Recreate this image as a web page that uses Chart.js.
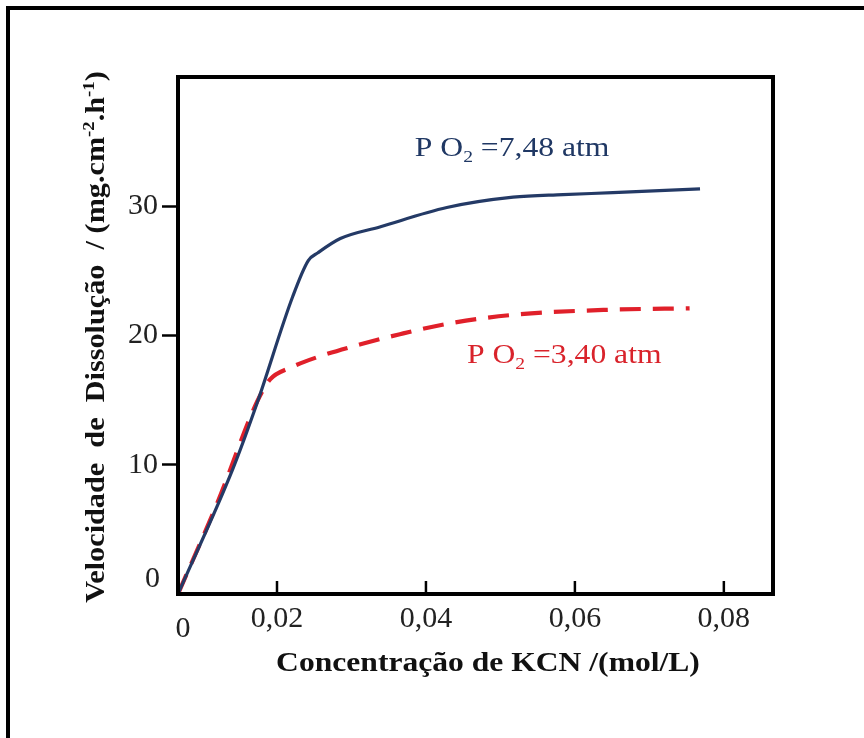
<!DOCTYPE html>
<html>
<head>
<meta charset="utf-8">
<script src="https://cdn.jsdelivr.net/npm/chart.js@4.4.1/dist/chart.umd.min.js"></script>
<style>
  html, body { margin: 0; padding: 0; background: #fff; }
  #wrap { width: 864px; height: 738px; position: relative; }
</style>
</head>
<body>
<div id="wrap"><canvas id="dissolucaoChart"></canvas></div>
<script>
// Dados (x em mol/L, y em mg.cm-2.h-1)
const concAlta = [0, 0.0111, 0.016, 0.0221, 0.0242, 0.0255, 0.0285, 0.0338, 0.0428, 0.0517, 0.0584, 0.0651, 0.0768];
const velAlta  = [0, 9.7, 14.8, 23.0, 25.8, 26.4, 27.5, 28.4, 29.9, 30.7, 30.9, 31.05, 31.35];

const concBaixa = [0, 0.008, 0.016, 0.0186, 0.02175, 0.0258, 0.0311, 0.0365, 0.0428, 0.0517, 0.0651, 0.0754];
const velBaixa  = [0, 7.1, 14.9, 16.6, 17.5, 18.4, 19.3, 20.1, 20.9, 21.6, 22.0, 22.1];

const xTickValues = [0, 0.02, 0.04, 0.06, 0.08];
const xTickLabels = ['0', '0,02', '0,04', '0,06', '0,08'];
const yTickValues = [0, 10, 20, 30];
const yTickLabels = ['0', '10', '20', '30'];

const rotuloAlta  = { pre: 'P O', sub: '2', post: ' =7,48 atm', x: 0.0385, y: 33.9, cor: '#203864' };
const rotuloBaixa = { pre: 'P O', sub: '2', post: ' =3,40 atm', x: 0.0455, y: 17.9, cor: '#d9232b' };

const serif = '"Liberation Serif", "Times New Roman", serif';

// Eixo x do original: trecho 0 - 0,02 mais curto que os demais
const xQuebra = 0.02;
const fracQuebra = 99 / 595;

class EixoQuebrado extends Chart.LinearScale {
    getPixelForValue(value) {
        if (value === null || value === undefined) return NaN;
        let dec;
        if (value <= xQuebra) {
            dec = (value - this.min) / (xQuebra - this.min) * fracQuebra;
        } else {
            dec = fracQuebra + (value - xQuebra) / (this.max - xQuebra) * (1 - fracQuebra);
        }
        return this.getPixelForDecimal(dec);
    }
    getValueForPixel(pixel) {
        const dec = this.getDecimalForPixel(pixel);
        if (dec <= fracQuebra) return this.min + dec / fracQuebra * (xQuebra - this.min);
        return xQuebra + (dec - fracQuebra) / (1 - fracQuebra) * (this.max - xQuebra);
    }
}
EixoQuebrado.id = 'quebrado';
EixoQuebrado.defaults = Chart.LinearScale.defaults;
Chart.register(EixoQuebrado);

function pares(xs, ys) {
    return xs.map((x, i) => ({ x: x, y: ys[i] }));
}

function larguraPartes(ctx, partes, tamanho, peso) {
    let w = 0;
    partes.forEach(p => {
        const t = p.indice ? tamanho * 0.62 : tamanho;
        ctx.font = peso + ' ' + t + 'px ' + serif;
        w += ctx.measureText(p.t).width;
    });
    return w;
}

// Texto com subscrito / sobrescrito, esticado na horizontal como no original
function textoComIndice(ctx, partes, tamanho, peso, esticar) {
    ctx.save();
    ctx.scale(esticar, 1);
    let cx = 0;
    partes.forEach(p => {
        const t = p.indice ? tamanho * 0.62 : tamanho;
        ctx.font = peso + ' ' + t + 'px ' + serif;
        const dy = p.indice === 'sub' ? tamanho * 0.22 : p.indice === 'sup' ? -tamanho * 0.38 : 0;
        ctx.fillText(p.t, cx, dy);
        cx += ctx.measureText(p.t).width;
    });
    ctx.restore();
}

const molduraPlugin = {
    id: 'moldura',
    beforeDraw(chart) {
        const ctx = chart.ctx;
        ctx.save();
        ctx.fillStyle = '#fff';
        ctx.fillRect(0, 0, chart.width, chart.height);
        // moldura externa (só topo e esquerda aparecem)
        ctx.strokeStyle = '#000';
        ctx.lineWidth = 4;
        ctx.beginPath();
        ctx.moveTo(8, chart.height);
        ctx.lineTo(8, 8);
        ctx.lineTo(chart.width, 8);
        ctx.stroke();
        ctx.restore();
    },
    afterDraw(chart) {
        const ctx = chart.ctx;
        const a = chart.chartArea;
        const xs = chart.scales.x;
        const ys = chart.scales.y;
        ctx.save();

        // caixa do gráfico
        ctx.strokeStyle = '#000';
        ctx.lineWidth = 4;
        ctx.strokeRect(a.left, a.top, a.right - a.left, a.bottom - a.top);

        // marcas do eixo x para dentro
        ctx.lineWidth = 2.5;
        xTickValues.forEach(v => {
            if (v === 0) return;
            const px = xs.getPixelForValue(v);
            ctx.beginPath();
            ctx.moveTo(px, a.bottom);
            ctx.lineTo(px, a.bottom - 13);
            ctx.stroke();
        });

        // os dois "0" do canto ficam deslocados no original
        ctx.fillStyle = '#222';
        ctx.font = '30px ' + serif;
        ctx.textBaseline = 'middle';
        ctx.textAlign = 'right';
        ctx.fillText(yTickLabels[0], a.left - 18, a.bottom - 15);
        ctx.textAlign = 'center';
        ctx.fillText(xTickLabels[0], a.left + 5, a.bottom + 35);

        // rótulos das curvas
        ctx.textAlign = 'left';
        ctx.textBaseline = 'alphabetic';
        [rotuloAlta, rotuloBaixa].forEach(r => {
            ctx.save();
            ctx.fillStyle = r.cor;
            ctx.translate(xs.getPixelForValue(r.x), ys.getPixelForValue(r.y));
            textoComIndice(ctx, [{ t: r.pre }, { t: r.sub, indice: 'sub' }, { t: r.post }], 28, 'normal', 1.13);
            ctx.restore();
        });

        // título do eixo x
        ctx.fillStyle = '#111';
        const partesX = [{ t: 'Concentração de KCN /(mol/L)' }];
        const wx = larguraPartes(ctx, partesX, 27, 'bold') * 1.17;
        ctx.save();
        ctx.translate(488 - wx / 2, 671);
        textoComIndice(ctx, partesX, 27, 'bold', 1.17);
        ctx.restore();

        // título do eixo y (rotacionado)
        const partesY = [
            { t: 'Velocidade  de  Dissolução  / (mg.cm' },
            { t: '-2', indice: 'sup' },
            { t: '.h' },
            { t: '-1', indice: 'sup' },
            { t: ')' }
        ];
        const wy = larguraPartes(ctx, partesY, 27, 'bold') * 1.12;
        ctx.save();
        ctx.translate(104, 337);
        ctx.rotate(-Math.PI / 2);
        ctx.translate(-wy / 2, 0);
        textoComIndice(ctx, partesY, 27, 'bold', 1.12);
        ctx.restore();

        ctx.restore();
    }
};

const ctx = document.getElementById('dissolucaoChart').getContext('2d');
const grafico = new Chart(ctx, {
    type: 'line',
    data: {
        datasets: [
            {
                label: 'P O2 = 7,48 atm',
                data: pares(concAlta, velAlta),
                borderColor: '#243a66',
                borderWidth: 3.2,
                pointRadius: 0,
                cubicInterpolationMode: 'monotone',
                fill: false
            },
            {
                label: 'P O2 = 3,40 atm',
                data: pares(concBaixa, velBaixa),
                borderColor: '#e0202a',
                borderWidth: 4.2,
                borderDash: [21, 12],
                pointRadius: 0,
                cubicInterpolationMode: 'monotone',
                fill: false
            }
        ]
    },
    options: {
        responsive: true,
        maintainAspectRatio: false,
        animation: false,
        layout: { padding: { top: 77, right: 91, bottom: 0, left: 0 } },
        plugins: {
            legend: { display: false },
            tooltip: { enabled: false }
        },
        scales: {
            x: {
                type: 'quebrado',
                min: 0,
                max: 0.0866,
                afterBuildTicks: scale => {
                    scale.ticks = xTickValues.map(v => ({ value: v }));
                },
                afterFit: scale => { scale.height = 144; },
                border: { display: false },
                grid: { display: false, drawTicks: false },
                ticks: {
                    padding: 7,
                    maxRotation: 0,
                    autoSkip: false,
                    color: '#222',
                    font: { family: serif, size: 30 },
                    callback: (v, i) => i === 0 ? '' : xTickLabels[i]
                }
            },
            y: {
                type: 'linear',
                min: 0,
                max: 40,
                afterBuildTicks: scale => {
                    scale.ticks = yTickValues.map(v => ({ value: v }));
                },
                afterFit: scale => { scale.width = 178; },
                border: { display: false },
                grid: {
                    drawOnChartArea: false,
                    drawTicks: true,
                    tickLength: 16,
                    tickWidth: 2.5,
                    tickColor: c => (c.tick && c.tick.value === 0) ? 'rgba(0,0,0,0)' : '#000'
                },
                ticks: {
                    padding: 4,
                    autoSkip: false,
                    color: '#222',
                    font: { family: serif, size: 30 },
                    callback: (v, i) => i === 0 ? '' : yTickLabels[i]
                }
            }
        }
    },
    plugins: [molduraPlugin]
});
</script>
</body>
</html>
